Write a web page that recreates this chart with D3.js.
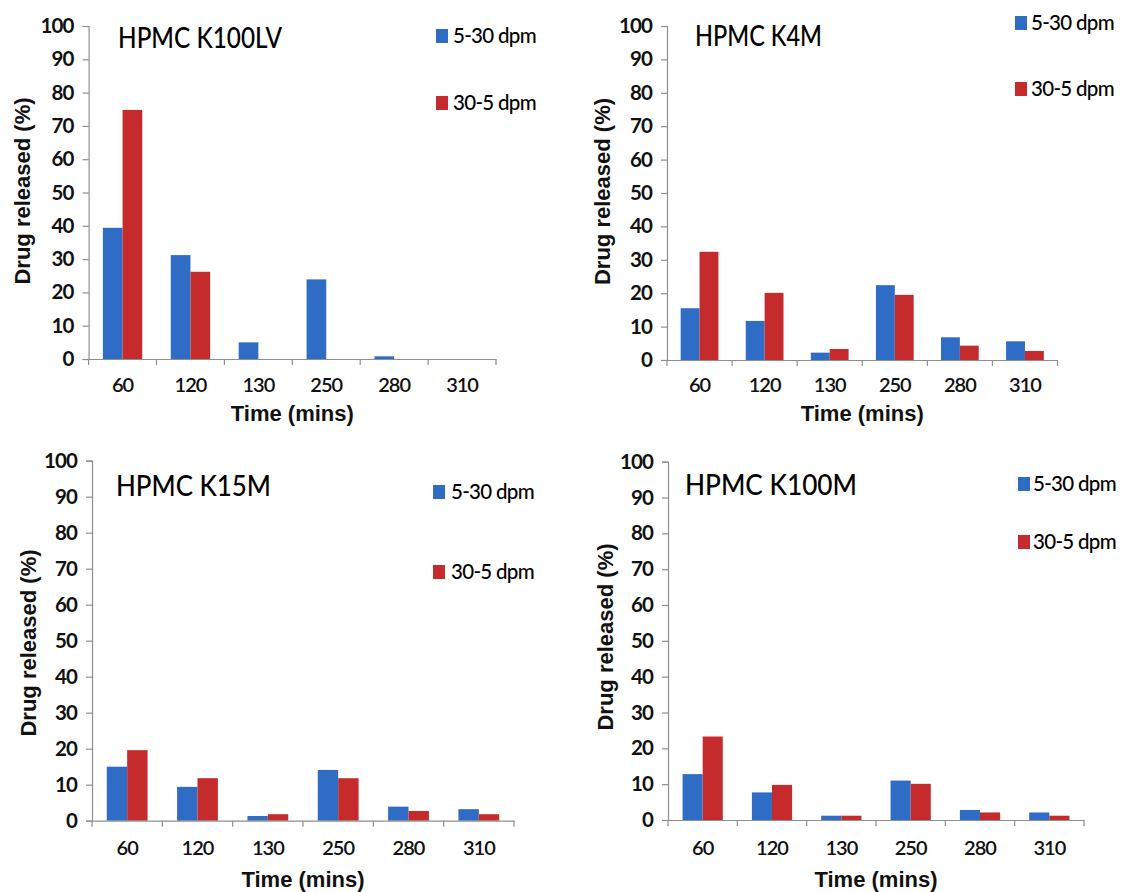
<!DOCTYPE html>
<html>
<head>
<meta charset="utf-8">
<script src="https://cdn.jsdelivr.net/npm/d3@7"></script>
<style>
  html, body { margin: 0; padding: 0; background: #fff; }
  svg { display: block; }
</style>
</head>
<body>
<svg id="chart" width="1121" height="892"></svg>
<script>
// Sampling times (minutes) shared by all four polymer grades
const times = ["60", "120", "130", "250", "280", "310"];
const seriesNames = ["5-30 dpm", "30-5 dpm"];
const yTicks = [0, 10, 20, 30, 40, 50, 60, 70, 80, 90, 100];

// Drug released (%) per grade, one array per dissolution programme
const k100lvUp   = [39.4, 31.2, 5.0, 23.9, 0.8, 0];
const k100lvDown = [74.8, 26.2, 0, 0, 0, 0];
const k4mUp      = [15.5, 11.7, 2.2, 22.4, 6.8, 5.6];
const k4mDown    = [32.4, 20.1, 3.3, 19.5, 4.3, 2.7];
const k15mUp     = [15.0, 9.4, 1.3, 14.1, 3.9, 3.2];
const k15mDown   = [19.6, 11.8, 1.8, 11.8, 2.7, 1.8];
const k100mUp    = [12.8, 7.7, 1.2, 11.0, 2.8, 2.1];
const k100mDown  = [23.3, 9.8, 1.2, 10.1, 2.1, 1.2];

const titles = ["HPMC K100LV", "HPMC K4M", "HPMC K15M", "HPMC K100M"];

const colors = ["#2f6cc6", "#c52b2c"];

// Frame geometry for each of the four panels
const frames = [
  { left: 88.6, right: 496, top: 26, bottom: 359,
    titleX: 118, titleY: 47.5, titleW: 164,
    legX: 436, legY: [29, 96], legTextX: 453,
    yTitleX: 30, yTitleY: 191, tickY: 392, xTitleY: 421 },
  { left: 667, right: 1057.5, top: 26, bottom: 360,
    titleX: 695, titleY: 45.5, titleW: 127,
    legX: 1015, legY: [16, 82], legTextX: 1031,
    yTitleX: 610, yTitleY: 191.5, tickY: 392, xTitleY: 421 },
  { left: 92, right: 514, top: 460.7, bottom: 820.7,
    titleX: 116, titleY: 496, titleW: 155,
    legX: 433, legY: [485, 565], legTextX: 451,
    yTitleX: 36, yTitleY: 643, tickY: 855, xTitleY: 887 },
  { left: 668, right: 1084, top: 461.7, bottom: 820,
    titleX: 685, titleY: 494.5, titleW: 172,
    legX: 1018, legY: [477, 535], legTextX: 1033,
    yTitleX: 613, yTitleY: 637, tickY: 855, xTitleY: 887 }
];

const panelData = [
  [k100lvUp, k100lvDown],
  [k4mUp, k4mDown],
  [k15mUp, k15mDown],
  [k100mUp, k100mDown]
];

const svg = d3.select("#chart");
const axisColor = "#8f8f8f";
const calibriLike = "Lato, 'Open Sans', sans-serif";
const arialLike = "'Liberation Sans', Arial, sans-serif";

frames.forEach((f, i) => {
  const g = svg.append("g");
  const series = panelData[i];

  const x = d3.scaleBand().domain(times).range([f.left, f.right]).paddingInner(0).paddingOuter(0);
  const bw = x.bandwidth();
  const xs = d3.scaleBand().domain(seriesNames).range([bw * 0.21, bw * 0.79]).padding(0);
  const y = d3.scaleLinear().domain([0, 100]).range([f.bottom, f.top]);

  // Bars
  seriesNames.forEach((s, si) => {
    g.append("g")
      .selectAll("rect")
      .data(times.map((t, ti) => ({ t, v: series[si][ti] })))
      .join("rect")
      .attr("x", d => x(d.t) + xs(s))
      .attr("width", xs.bandwidth())
      .attr("y", d => y(d.v))
      .attr("height", d => y(0) - y(d.v))
      .attr("fill", colors[si]);
  });

  // Y axis
  const yAxis = g.append("g")
    .attr("transform", `translate(${f.left},0)`)
    .call(d3.axisLeft(y).tickValues(yTicks).tickSize(6).tickPadding(9).tickFormat(d3.format("d")));
  yAxis.select(".domain").attr("stroke", axisColor).attr("stroke-width", 1.2);
  yAxis.selectAll(".tick line").attr("stroke", axisColor).attr("stroke-width", 1.2);
  yAxis.selectAll(".tick text")
    .attr("fill", "#111")
    .style("font-family", calibriLike)
    .style("font-weight", "bold")
    .style("font-size", "20.5px")
    .style("letter-spacing", "-0.9px");

  // X axis: labels centred in each band, ticks at the band boundaries
  const xAxis = g.append("g")
    .attr("transform", `translate(0,${f.bottom})`)
    .call(d3.axisBottom(x).tickSize(0).tickPadding(0));
  xAxis.select(".domain").attr("stroke", axisColor).attr("stroke-width", 1.2);
  xAxis.selectAll(".tick text")
    .attr("y", f.tickY - f.bottom)
    .attr("dy", null)
    .attr("fill", "#111")
    .style("font-family", calibriLike)
    .style("font-weight", "600")
    .style("font-size", "20px")
    .style("letter-spacing", "-1px");
  const bounds = times.map(t => x(t)).concat([x.range()[1]]);
  xAxis.selectAll("line.bound")
    .data(bounds)
    .join("line")
    .attr("class", "bound")
    .attr("x1", d => d).attr("x2", d => d)
    .attr("y1", 0).attr("y2", 6)
    .attr("stroke", axisColor)
    .attr("stroke-width", 1.2);

  // Panel title
  g.append("text")
    .attr("x", f.titleX)
    .attr("y", f.titleY)
    .attr("textLength", f.titleW)
    .attr("lengthAdjust", "spacingAndGlyphs")
    .style("font-family", calibriLike)
    .style("font-weight", "500")
    .style("font-size", "29px")
    .attr("fill", "#000")
    .text(titles[i]);

  // Legend
  seriesNames.forEach((s, si) => {
    g.append("rect")
      .attr("x", f.legX)
      .attr("y", f.legY[si])
      .attr("width", 12)
      .attr("height", 14)
      .attr("fill", colors[si]);
    g.append("text")
      .attr("x", f.legTextX)
      .attr("y", f.legY[si] + 14)
      .style("font-family", calibriLike)
      .style("font-weight", "500")
      .style("font-size", "20.5px")
      .style("letter-spacing", "-0.7px")
      .attr("fill", "#000")
      .text(s);
  });

  // Axis titles
  g.append("text")
    .attr("transform", `translate(${f.yTitleX},${f.yTitleY}) rotate(-90)`)
    .attr("text-anchor", "middle")
    .style("font-family", arialLike)
    .style("font-weight", "bold")
    .style("font-size", "22px")
    .attr("fill", "#111")
    .text("Drug released (%)");

  g.append("text")
    .attr("x", (f.left + f.right) / 2)
    .attr("y", f.xTitleY)
    .attr("text-anchor", "middle")
    .style("font-family", arialLike)
    .style("font-weight", "bold")
    .style("font-size", "22px")
    .attr("fill", "#111")
    .text("Time (mins)");
});
</script>
</body>
</html>
